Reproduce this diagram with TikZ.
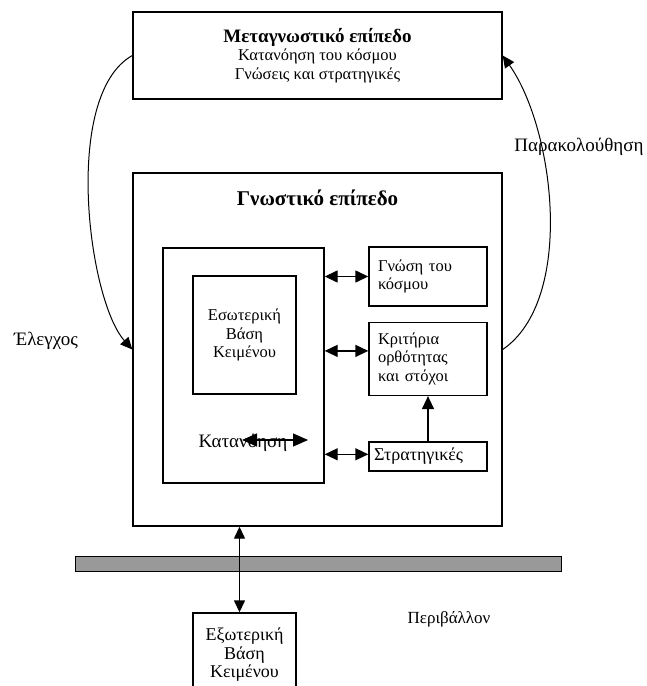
\documentclass[tikz,border=0pt]{standalone}
\usepackage{fontspec}
\setmainfont{Liberation Serif}
\usetikzlibrary{arrows.meta,positioning}

\begin{document}
\begin{tikzpicture}[x=1pt,y=-1pt,>={Triangle[length=13pt,width=12pt]},
    box/.style={draw,line width=1.4pt,inner sep=0pt,align=center,font=\fontsize{16.5}{18.5}\selectfont},
    side/.style={box,minimum width=118pt,text width=100pt,align=left},
    lbl/.style={font=\fontsize{19}{21}\selectfont},
    link/.style={line width=1.4pt,<->},
    loopline/.style={line width=1pt,->,>={Triangle[length=12pt,width=11pt]}}]
    \useasboundingbox (0,0) rectangle (646,686);

    \node[box,minimum width=369pt,minimum height=87pt] (meta) at (317.5,55.5)
        {{\fontsize{19}{19}\selectfont\bfseries Μεταγνωστικό επίπεδο}\\Κατανόηση του κόσμου\\Γνώσεις και στρατηγικές};
    \node[box,minimum width=369pt,minimum height=353pt] (gnost) at (317.5,349.5) {};
    \node[font=\fontsize{21}{23}\selectfont\bfseries] (gnostlbl) at (317.5,198) {Γνωστικό επίπεδο};

    \node[box,minimum width=161pt,minimum height=235pt] (katan) at (243.5,365.5) {};
    \node[box,minimum width=103pt,minimum height=118pt] (eso) at (244.5,335)
        {Εσωτερική\\Βάση\\Κειμένου};
    \node[lbl] (katanlbl) at (243,443) {Κατανόηση};
    \coordinate (ka) at (242,440);
    \coordinate (kb) at (308,440);

    \node[side,minimum height=59pt] (gnosi) at (428,276.5) {Γνώση του\\κόσμου};
    \node[side,minimum height=73pt] (krit) [below=15pt of gnosi] {Κριτήρια\\ορθότητας\\και στόχοι};
    \node[side,minimum height=29pt,text width=108pt,font=\fontsize{18}{20}\selectfont] (strat) [below=45pt of krit] {Στρατηγικές};

    \node[box,minimum width=103pt,minimum height=84pt,font=\fontsize{18}{18.5}\selectfont] (ext) at (244.5,655)
        {Εξωτερική\\Βάση\\Κειμένου};
    \node[draw,line width=1pt,fill=gray!80,minimum width=486pt,minimum height=15pt,inner sep=0pt] (bar) at (318,563.5) {};

    \node[lbl,font=\fontsize{17}{19}\selectfont] (env) at (449,619) {Περιβάλλον};
    \node[lbl] (elegxos) at (46,341) {Έλεγχος};
    \node[lbl] (parak) at (579,147) {Παρακολούθηση};

    \draw[link] (katan.east |- gnosi.west) -- (gnosi.west);
    \draw[link] ([yshift=8pt]katan.east |- krit.west) -- ([yshift=8pt]krit.west);
    \draw[link] ([yshift=2pt]katan.east |- strat.west) -- ([yshift=2pt]strat.west);
    \draw[link,->] (strat.north) -- (krit.south);
    \draw[link,>={Triangle[length=15pt,width=13pt]}] (ka) -- (kb);
    \draw[link,>={Triangle[length=12pt,width=11pt]}] ([xshift=-5pt]ext.north) -- ([xshift=-5pt]ext.north |- gnost.south);

    \draw[loopline] (meta.west) .. controls (62,95) and (88,300) .. (gnost.west);
    \draw[loopline] (gnost.east) .. controls (575,300) and (555,130) .. (meta.east);
\end{tikzpicture}
\end{document}
